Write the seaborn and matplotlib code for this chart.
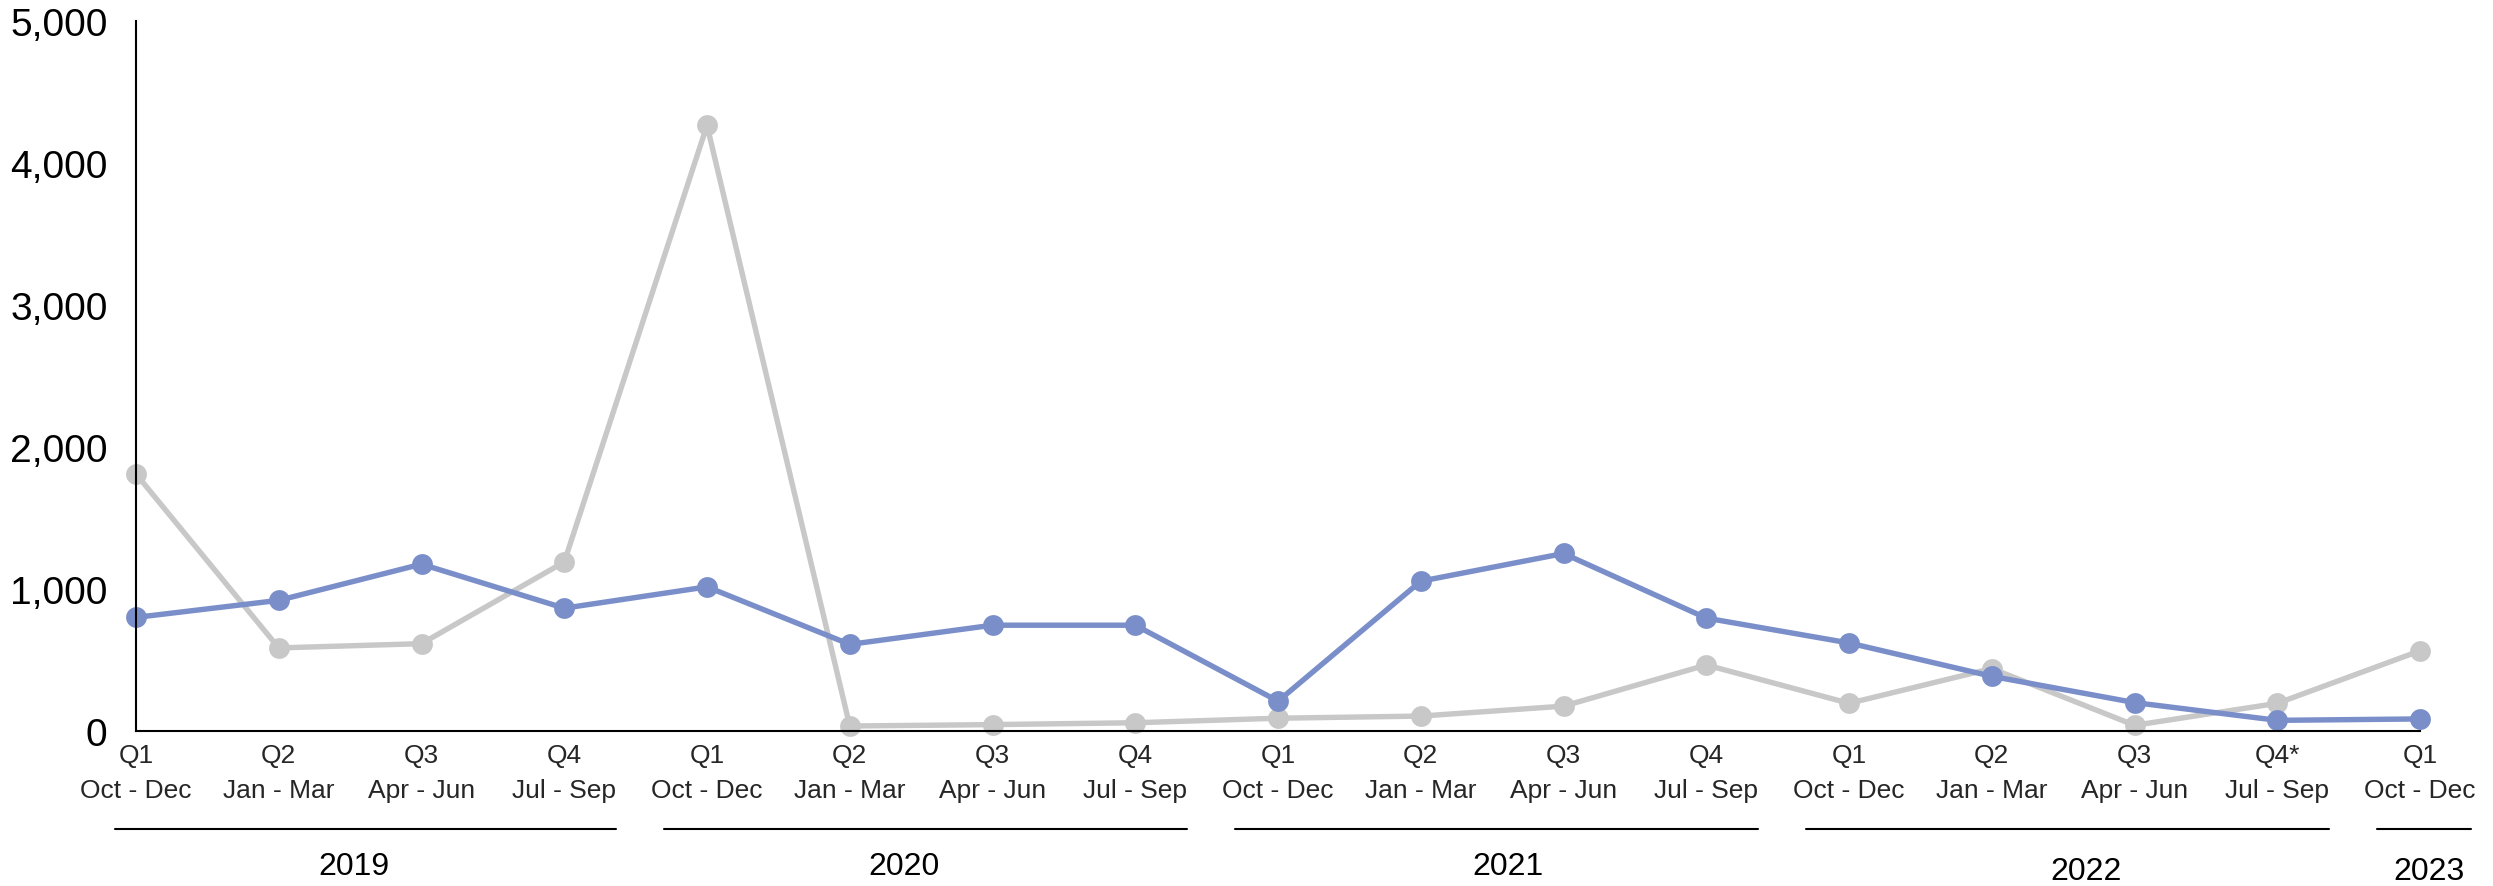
import seaborn as sns
import matplotlib.pyplot as plt
import pandas as pd

# Data
QUARTERS = ['Q1', 'Q2', 'Q3', 'Q4', 'Q1', 'Q2', 'Q3', 'Q4', 'Q1', 'Q2', 'Q3', 'Q4',
            'Q1', 'Q2', 'Q3', 'Q4*', 'Q1']
MONTHS = ['Oct - Dec', 'Jan - Mar', 'Apr - Jun', 'Jul - Sep'] * 4 + ['Oct - Dec']
YEARS = ['2019', '2020', '2021', '2022', '2023']
YEAR_SPANS = [(0, 3), (4, 7), (8, 11), (12, 15), (16, 16)]

blue_series = [800, 920, 1175, 865, 1015, 610, 745, 745, 210, 1055, 1250, 795,
               620, 385, 200, 75, 85]
gray_series = [1810, 585, 615, 1190, 4265, 35, 45, 58, 90, 105, 175, 465,
               195, 440, 40, 195, 565]

Y_TICKS = [0, 1000, 2000, 3000, 4000, 5000]

BLUE = '#7A8FC9'
GRAY = '#C8C8C8'

# small nudges of the year captions relative to their bracket centre
YEAR_SHIFT = [-0.08, -0.15, 0.08, 0.13, 0.03]

sns.set_style("white")
plt.rcParams['font.family'] = ['Liberation Sans', 'DejaVu Sans']

df = pd.DataFrame({
    'idx': list(range(len(QUARTERS))),
    'blue': blue_series,
    'gray': gray_series,
})

fig = plt.figure(figsize=(24.93, 8.87), dpi=100)
ax = fig.add_axes([0.05455, 0.17475, 0.9162, 0.80045])

sns.lineplot(data=df, x='idx', y='gray', ax=ax, color=GRAY, linewidth=3.9,
             marker='o', markersize=15, markeredgewidth=0, clip_on=False)
sns.lineplot(data=df, x='idx', y='blue', ax=ax, color=BLUE, linewidth=3.9,
             marker='o', markersize=15, markeredgewidth=0, clip_on=False)

ax.set_xlim(0, len(QUARTERS) - 1)
ax.set_ylim(0, 5000)
ax.set_xlabel('')
ax.set_ylabel('')

# quarters as major tick labels, month ranges as minor tick labels below
ax.xaxis.remove_overlapping_locs = False
ax.set_xticks(df['idx'])
ax.set_xticklabels(QUARTERS, fontsize=19)
ax.set_xticks(df['idx'], minor=True)
ax.set_xticklabels(MONTHS, minor=True, fontsize=19)
ax.tick_params(axis='x', which='major', length=0, pad=9)
ax.tick_params(axis='x', which='minor', length=0, pad=34)

ax.set_yticks(Y_TICKS)
ax.set_yticklabels([f'{v:,}' for v in Y_TICKS], fontsize=28)
ax.tick_params(axis='y', direction='out', length=8, width=1.5, pad=12.5, colors='black')

for side in ['top', 'right']:
  ax.spines[side].set_visible(False)
for side in ['left', 'bottom']:
  ax.spines[side].set_color('black')
  ax.spines[side].set_linewidth(1.5)

# Year group lines and labels under the axis
trans = ax.get_xaxis_transform()
for i, (year, (first, last)) in enumerate(zip(YEARS, YEAR_SPANS)):
  start = max(first - 0.3, -0.15)
  end = last + 0.36
  ax.plot([start, end], [-0.138, -0.138], transform=trans, clip_on=False,
          color='black', linewidth=1.5)
  y_txt = -0.190 if i < 3 else -0.197
  ax.text((start + end) / 2 + YEAR_SHIFT[i], y_txt, year, transform=trans,
          ha='center', va='center', fontsize=23, color='black')

plt.savefig('out.png', dpi=100)
plt.close()
